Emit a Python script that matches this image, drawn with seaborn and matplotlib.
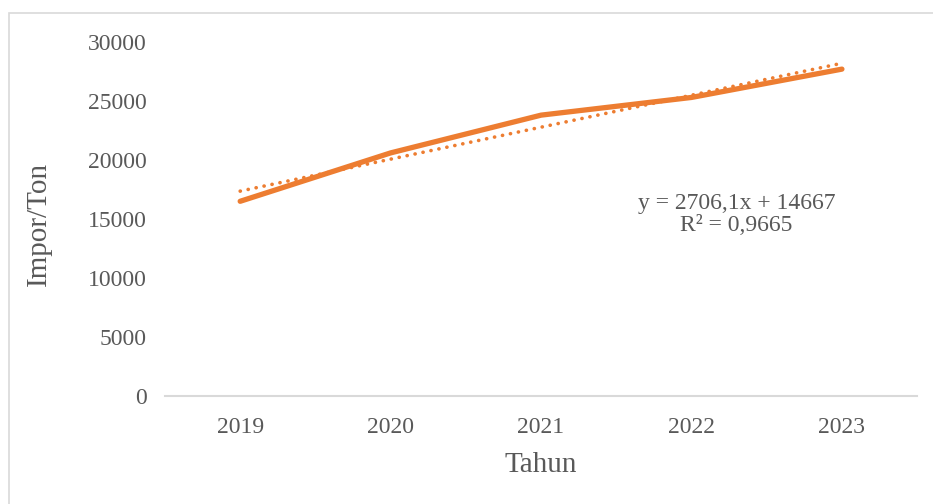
import matplotlib
matplotlib.use("Agg")
import matplotlib.pyplot as plt
import seaborn as sns
import pandas as pd
from matplotlib.patches import Rectangle

years = ["2019", "2020", "2021", "2022", "2023"]
impor_ton = [16500, 20600, 23800, 25300, 27700]
equation_text = "y = 2706,1x + 14667\nR² = 0,9665"

ORANGE = "#ED7D31"
GREY = "#595959"

sns.set_style("white")
plt.rcParams["font.family"] = ["Liberation Serif", "DejaVu Serif"]

df = pd.DataFrame({"idx": range(len(years)), "impor": impor_ton})

fig = plt.figure(figsize=(9.33, 5.04), dpi=100)
ax = fig.add_axes([0.1768, 0.2143, 0.8062, 0.7024])

# Outer chart frame (Excel-style)
fig.patches.append(Rectangle((9 / 933, -0.1), 1.2, 1 - 13 / 504 + 0.1,
                             transform=fig.transFigure, fill=False,
                             edgecolor="#d9d9d9", linewidth=1.2, zorder=0))

# Linear trendline (dotted)
sns.regplot(data=df, x="idx", y="impor", ax=ax, ci=None, scatter=False, truncate=True,
            line_kws={"color": ORANGE, "linestyle": (0, (0.05, 2.2)), "linewidth": 2.6,
                      "dash_capstyle": "round", "solid_capstyle": "round"})
# Data line
sns.lineplot(data=df, x="idx", y="impor", ax=ax, color=ORANGE, linewidth=3.8,
             solid_capstyle="round")

ax.set_xlim(-0.5, 4.5)
ax.set_ylim(0, 30000)
ax.set_yticks(range(0, 30001, 5000))
ax.set_xticks(range(len(years)))
ax.set_xticklabels(years)
ax.tick_params(axis="both", labelsize=17, colors=GREY, length=0)
ax.tick_params(axis="y", pad=13)
ax.tick_params(axis="x", pad=15)

for s in ["top", "right", "left"]:
    ax.spines[s].set_visible(False)
ax.spines["bottom"].set_color("#d9d9d9")
ax.spines["bottom"].set_linewidth(1.5)

ax.set_xlabel("Tahun", fontsize=21, color=GREY)
ax.set_ylabel("Impor/Ton", fontsize=21, color=GREY)
ax.xaxis.set_label_coords(0.5, -0.158)
ax.yaxis.set_label_coords(-0.150, 0.485)

ax.text(3.3, 15400, equation_text, fontsize=17, color=GREY, ha="center", va="center",
        linespacing=1.05)

fig.savefig("out.png", dpi=100)
